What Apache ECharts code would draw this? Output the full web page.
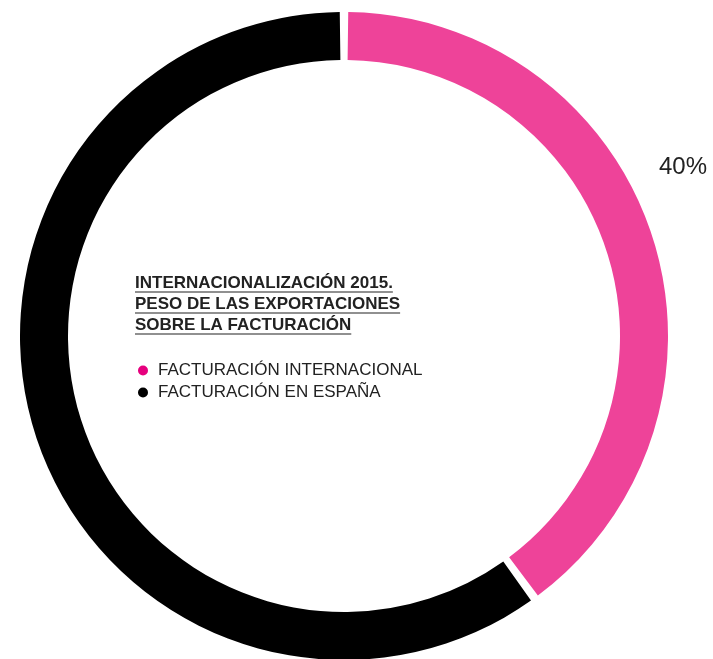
<!DOCTYPE html>
<html>
<head>
<meta charset="utf-8">
<script src="https://cdn.jsdelivr.net/npm/echarts@6/dist/echarts.min.js"></script>
<style>
  html, body { margin: 0; padding: 0; background: #fff; }
  #chart { width: 713px; height: 659px; }
</style>
</head>
<body>
<div id="chart"></div>
<script>
// datos del gráfico
var categorias = ['FACTURACIÓN INTERNACIONAL', 'FACTURACIÓN EN ESPAÑA'];
var valores = [40, 60];
var coloresAnillo = ['#EE4399', '#000000'];
var coloresLeyenda = ['#E6007E', '#000000'];
var tituloLineas = ['INTERNACIONALIZACIÓN 2015.', 'PESO DE LAS EXPORTACIONES', 'SOBRE LA FACTURACIÓN'];

var dom = document.getElementById('chart');
var myChart = echarts.init(dom);

// titulo subrayado: texto + linea debajo de cada renglon
var ctx = document.createElement('canvas').getContext('2d');
var tituloFont = 'bold 17px "Liberation Sans"';
ctx.font = tituloFont;
var graficos = [];
tituloLineas.forEach(function (linea, i) {
    var y = 275 + i * 21;
    var w = ctx.measureText(linea).width;
    graficos.push({
        type: 'text',
        x: 135, y: y,
        style: { text: linea, font: tituloFont, fill: '#222', textVerticalAlign: 'top' }
    });
    graficos.push({
        type: 'line',
        shape: { x1: 135, y1: y + 17, x2: 135 + w, y2: y + 17 },
        style: { stroke: '#222', lineWidth: 1.2 }
    });
});

var datos = categorias.map(function (c, i) {
    return {
        name: c,
        value: valores[i],
        itemStyle: { color: coloresAnillo[i] },
        label: { show: i === 0 }
    };
});

var option = {
    animation: false,
    graphic: graficos,
    legend: {
        orient: 'vertical',
        left: 133,
        top: 357,
        icon: 'circle',
        itemWidth: 10,
        itemHeight: 10,
        itemGap: 5,
        selectedMode: false,
        textStyle: { fontFamily: 'Liberation Sans', fontSize: 17, color: '#222', lineHeight: 17, padding: [0, 0, 0, 5] },
        data: categorias.map(function (c, i) {
            return { name: c, itemStyle: { color: coloresLeyenda[i] } };
        })
    },
    series: [{
        type: 'pie',
        center: [344, 336],
        radius: [276, 324],
        startAngle: 90,
        padAngle: 1.5,
        silent: true,
        label: {
            position: 'inside',
            formatter: '{d}%',
            fontFamily: 'Liberation Sans',
            fontSize: 24,
            color: '#222'
        },
        labelLine: { show: false },
        labelLayout: { x: 683, y: 167, align: 'center', verticalAlign: 'middle' },
        data: datos
    }]
};
myChart.setOption(option, true);
</script>
</body>
</html>
